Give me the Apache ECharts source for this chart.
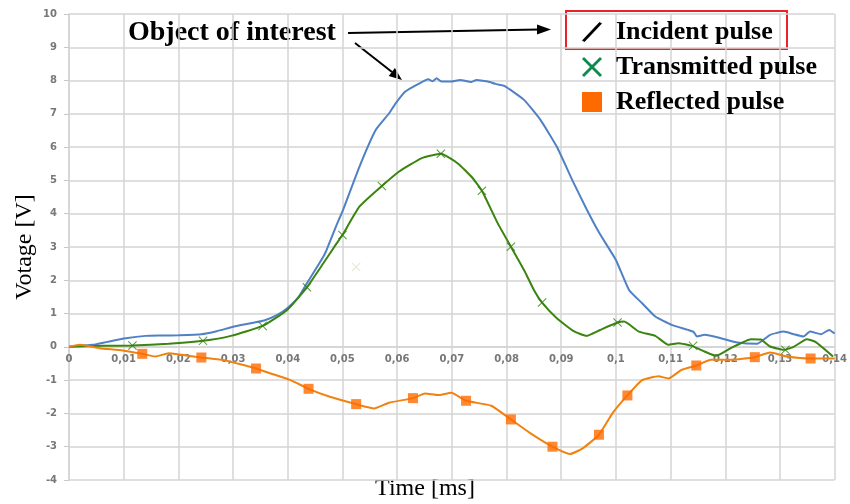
<!DOCTYPE html>
<html>
<head>
<meta charset="utf-8">
<script src="https://cdn.jsdelivr.net/npm/echarts@6/dist/echarts.min.js"></script>
<style>html,body{margin:0;padding:0;background:#fff}#c{width:850px;height:504px}</style>
</head>
<body>
<div id="c"></div>
<script>
// ---- data (time in ms axis units as on the chart, voltage in V) ----
const incT = [0,0.002,0.0044,0.007,0.0104,0.014,0.017,0.02,0.0242,0.027,0.0302,0.033,0.0357,0.038,0.0399,0.042,0.0435,0.0465,0.0471,0.0489,0.0501,0.0531,0.0561,0.0585,0.0597,0.0615,0.0639,0.0657,0.0665,0.0672,0.068,0.0699,0.0715,0.0736,0.0745,0.0766,0.078,0.0796,0.0832,0.0862,0.0892,0.0922,0.0946,0.097,0.1,0.1024,0.1048,0.1072,0.1102,0.1132,0.1142,0.1148,0.1162,0.1192,0.1222,0.1258,0.1282,0.1307,0.1325,0.1343,0.1355,0.1375,0.139,0.14];
const incV = [0,0.03,0.06,0.15,0.26,0.33,0.34,0.35,0.38,0.47,0.61,0.7,0.79,0.95,1.16,1.5,1.91,2.71,2.91,3.65,4.11,5.41,6.52,7.01,7.31,7.67,7.9,8.04,7.98,8.07,7.98,7.97,8.02,7.96,8.02,7.97,7.9,7.84,7.42,6.82,6.01,4.95,4.15,3.41,2.61,1.71,1.31,0.91,0.66,0.51,0.45,0.31,0.36,0.26,0.13,0.09,0.36,0.46,0.38,0.31,0.46,0.38,0.51,0.4];

const trT = [0,0.0062,0.0116,0.0182,0.0245,0.0296,0.0354,0.0399,0.0435,0.0465,0.0489,0.05,0.0531,0.0572,0.0603,0.0645,0.068,0.0711,0.0736,0.0755,0.0784,0.0808,0.0832,0.085,0.0865,0.0892,0.0922,0.0946,0.097,0.1003,0.1015,0.1042,0.1072,0.1096,0.1114,0.1139,0.1162,0.1183,0.121,0.1247,0.1265,0.1282,0.1307,0.1325,0.1349,0.1365,0.1397];
const trV = [0,0.03,0.04,0.09,0.18,0.33,0.63,1.11,1.79,2.51,3.1,3.36,4.21,4.83,5.26,5.67,5.8,5.51,5.11,4.69,3.71,3.01,2.31,1.71,1.33,0.86,0.48,0.33,0.5,0.73,0.76,0.46,0.33,0.06,0.11,0.03,-0.14,-0.27,-0.04,0.23,0.22,0.01,-0.09,0.0,0.23,0.15,-0.29];

const refT = [0,0.002,0.0056,0.0098,0.0134,0.0158,0.0182,0.0206,0.0242,0.0284,0.0308,0.0342,0.0369,0.0405,0.0438,0.0477,0.0525,0.0558,0.0585,0.0629,0.0651,0.0675,0.0699,0.0726,0.0772,0.0808,0.0844,0.0884,0.0916,0.094,0.0969,0.0994,0.1021,0.1048,0.1078,0.1096,0.112,0.1147,0.1174,0.121,0.1254,0.1282,0.1313,0.1356,0.1397,0.14];
const refV = [0,0.06,-0.04,-0.11,-0.21,-0.29,-0.19,-0.24,-0.32,-0.4,-0.5,-0.65,-0.8,-1.0,-1.26,-1.5,-1.72,-1.85,-1.68,-1.54,-1.4,-1.45,-1.38,-1.62,-1.77,-2.18,-2.6,-3.0,-3.22,-3.04,-2.64,-1.99,-1.46,-1.0,-0.88,-0.95,-0.69,-0.56,-0.39,-0.39,-0.31,-0.17,-0.29,-0.35,-0.35,-0.35];

const trMkT = [0.0116,0.0245,0.0354,0.0435,0.05,0.0572,0.068,0.0755,0.0808,0.0865,0.1003,0.1141,0.131];
const trMkV = [0.04,0.18,0.63,1.79,3.36,4.83,5.8,4.69,3.01,1.33,0.73,0.03,-0.09];
const refMkT = [0.0134,0.0242,0.0342,0.0438,0.0525,0.0629,0.0726,0.0808,0.0884,0.0969,0.1021,0.1147,0.1254,0.1356];
const refMkV = [-0.21,-0.32,-0.65,-1.26,-1.72,-1.54,-1.62,-2.18,-3.0,-2.64,-1.46,-0.56,-0.31,-0.35];
const strayT = [0.0525];
const strayV = [2.4];

const seriesNames = ['Incident pulse','Transmitted pulse','Reflected pulse'];
const xTitle = 'Time [ms]';
const yTitle = 'Votage [V]';
const noteText = 'Object of interest';
const yMin = -4, yMax = 10;

const zip = (a, b) => a.map((t, i) => [t, b[i]]);

const crossPath = 'path://M0,2 L2,0 L10,8 L18,0 L20,2 L12,10 L20,18 L18,20 L10,12 L2,20 L0,18 L8,10 Z';
const slashPath = 'path://M0,18.5 L17.5,0 L20,1.5 L2.5,20 Z';
const markCross = 'path://M0,1.6 L1.6,0 L10,8.4 L18.4,0 L20,1.6 L11.6,10 L20,18.4 L18.4,20 L10,11.6 L1.6,20 L0,18.4 L8.4,10 Z';

const serif = "'Liberation Serif','Times New Roman',serif";
const gridTop = 14, gridBottom = 24, H = 504;
const plotH = H - gridTop - gridBottom;
const zeroFromBottom = plotH * (0 - yMin) / (yMax - yMin);

const chart = echarts.init(document.getElementById('c'));
chart.setOption({
  animation: false,
  backgroundColor: '#fff',
  grid: { left: 69, right: 5, top: gridTop, bottom: gridBottom },
  xAxis: {
    type: 'value', min: 0, max: 0.14, interval: 0.01,
    position: 'bottom', offset: -zeroFromBottom,
    axisLine: { onZero: false, lineStyle: { color: '#d4d4d4', width: 1.5 } },
    axisTick: { show: false },
    axisLabel: {
      color: '#777', fontSize: 10, fontWeight: 'bold', fontFamily: "'DejaVu Sans',sans-serif", margin: 8,
      formatter: v => String(+v.toFixed(2)).replace('.', ','),
      showMaxLabel: true
    },
    splitLine: { show: true, lineStyle: { color: '#d4d4d4', width: 1.5 } }
  },
  yAxis: {
    type: 'value', min: yMin, max: yMax, interval: 1,
    name: yTitle, nameLocation: 'middle', nameGap: 32, nameRotate: 90, nameMoveOverlap: false,
    nameTextStyle: { fontFamily: serif, fontSize: 24, color: '#000' },
    axisLine: { show: true, lineStyle: { color: '#d4d4d4', width: 1.5 } },
    axisTick: { show: true, length: 5, lineStyle: { color: '#c8c8c8' } },
    axisLabel: { color: '#777', fontSize: 10, fontWeight: 'bold', fontFamily: "'DejaVu Sans',sans-serif", margin: 12 },
    splitLine: { show: true, lineStyle: { color: '#d4d4d4', width: 1.5 } }
  },
  legend: {
    orient: 'vertical', left: 577, top: 12, itemWidth: 20, itemHeight: 20, itemGap: 5,
    selectedMode: false,
    textStyle: { fontFamily: serif, fontSize: 26, fontWeight: 'bold', color: '#000', lineHeight: 30, padding: [0, 0, 0, 9] },
    data: [
      { name: seriesNames[0], icon: slashPath, itemStyle: { color: '#000' } },
      { name: seriesNames[1], icon: crossPath, itemStyle: { color: '#0e8a4c' } },
      { name: seriesNames[2], icon: 'rect', itemStyle: { color: '#ff6a00' } }
    ]
  },
  series: [
    { name: seriesNames[0], type: 'line', data: zip(incT, incV), showSymbol: false, symbol: 'none', smooth: 0.15,
      lineStyle: { color: '#4f81c4', width: 2 }, itemStyle: { color: '#4f81c4' }, z: 2 },
    { name: seriesNames[1], type: 'line', data: zip(trT, trV), showSymbol: false, symbol: 'none', smooth: 0.15,
      lineStyle: { color: '#3a8410', width: 2 }, itemStyle: { color: '#3a8410' }, z: 3 },
    { name: seriesNames[2], type: 'line', data: zip(refT, refV), showSymbol: false, symbol: 'none', smooth: 0.15,
      lineStyle: { color: '#f2820f', width: 2 }, itemStyle: { color: '#f2820f' }, z: 3 },
    { name: 'trMarkers', type: 'scatter', data: zip(trMkT, trMkV), symbol: markCross, symbolSize: 9,
      itemStyle: { color: '#2f7f0c' }, z: 4 },
    { name: 'refMarkers', type: 'scatter', data: zip(refMkT, refMkV), symbol: 'rect', symbolSize: 10,
      itemStyle: { color: '#ff6a00' }, z: 4 },
    { name: 'stray', type: 'scatter', data: zip(strayT, strayV), symbol: markCross, symbolSize: 9,
      itemStyle: { color: '#d8e6cc' }, z: 4 }
  ],
  graphic: [
    { type: 'text', left: 'center', top: 477, style: { text: xTitle, font: "24px " + serif, fill: '#000' } },
    { type: 'text', x: 128, y: 33, style: { text: noteText, font: "bold 28px " + serif, fill: '#000', textVerticalAlign: 'middle' } },
    { type: 'line', shape: { x1: 348, y1: 33, x2: 539, y2: 29.6 }, style: { stroke: '#000', lineWidth: 2 } },
    { type: 'polygon', shape: { points: [[551, 29.4], [537, 24.5], [537, 34.5]] }, style: { fill: '#000' } },
    { type: 'line', shape: { x1: 355, y1: 43, x2: 392, y2: 72 }, style: { stroke: '#000', lineWidth: 2 } },
    { type: 'polygon', shape: { points: [[402, 80], [388.7, 75.9], [394.9, 68.1]] }, style: { fill: '#000' } },
    { type: 'rect', shape: { x: 566, y: 11, width: 221, height: 38 }, style: { fill: 'none', stroke: '#e8242a', lineWidth: 2 } }
  ]
});
</script>
</body>
</html>
